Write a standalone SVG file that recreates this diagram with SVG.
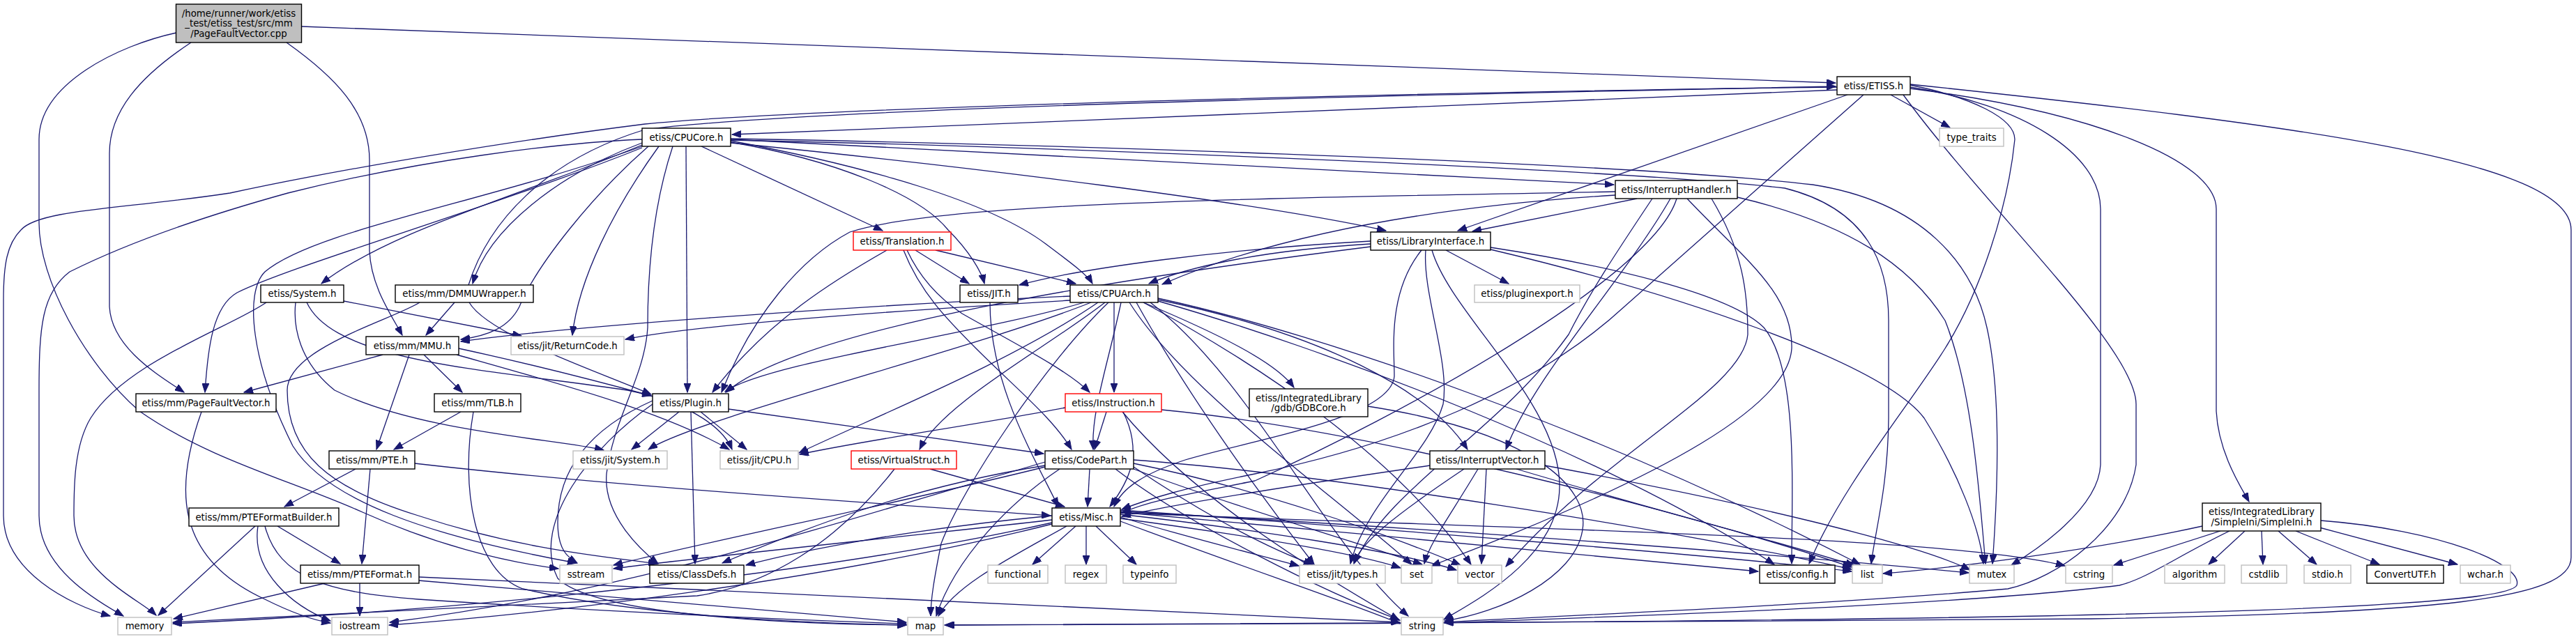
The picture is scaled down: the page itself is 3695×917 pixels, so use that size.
<svg xmlns="http://www.w3.org/2000/svg" width="3695" height="917" viewBox="0 0 3695 917">
<style>
.e{fill:none;stroke:#191970;stroke-width:1.3;marker-end:url(#ah)}
.n rect{fill:#fff;stroke:#000;stroke-width:1.4}
.x rect{fill:#fff;stroke:#bfbfbf;stroke-width:1.4}
.r rect{fill:#fff;stroke:#f00;stroke-width:1.4}
.g rect{fill:#bfbfbf;stroke:#000;stroke-width:1.4}
text{font-family:"DejaVu Sans","Liberation Sans",sans-serif;font-size:13.33px;text-anchor:middle;fill:#000}
</style>
<defs>
<marker id="ah" markerWidth="14" markerHeight="10" viewBox="0 0 14 10" refX="13" refY="5" orient="auto" markerUnits="userSpaceOnUse"><polygon points="0,0 13,5 0,10" fill="#191970" stroke="#191970"/></marker>
</defs>
<rect width="3695" height="917" fill="#fff"/>
<g id="connectors">
<path class="e" d="M433,38 L2633,119"/>
<path class="e" d="M253,47 C170,65 56,120 56,200 L56,320 C56,400 120,520 200,590 C300,660 420,690 520,735 C620,780 720,806 801,816"/>
<path class="e" d="M274,61 C200,110 157,160 157,220 L157,440 C160,500 230,540 264,563"/>
<path class="e" d="M411,61 C480,110 530,160 530,230 L530,360 C532,410 560,450 577,481"/>
<path class="e" d="M2635,129 L1050,193"/>
<path class="e" d="M2635,125 C2300,128 1200,150 925,178 C750,200 500,240 330,277 C180,300 56,300 30,330 C10,350 5,380 5,430 L5,740 C5,820 100,868 158,884"/>
<path class="e" d="M672,409 C700,320 780,230 925,186 C1200,150 2300,131 2633,124"/>
<path class="e" d="M921,205 C800,250 700,330 678,407"/>
<path class="e" d="M921,208 C750,280 560,330 461,407"/>
<path class="e" d="M921,200 C800,205 600,230 413,277 C330,300 200,340 100,390 C60,420 56,470 56,560 L56,740 C56,820 150,868 177,884"/>
<path class="e" d="M921,212 C700,300 420,380 340,420 C305,440 298,500 294,563"/>
<path class="e" d="M921,210 C700,290 450,330 380,390 C350,420 360,520 420,640 C470,720 620,770 827,808"/>
<path class="e" d="M930,210 C850,280 770,380 745,440 C730,470 700,482 661,487"/>
<path class="e" d="M945,210 C880,300 830,400 821,481"/>
<path class="e" d="M984,210 L986,563"/>
<path class="e" d="M965,210 C935,300 929,400 929,470 C925,540 880,600 870,680 C865,740 920,790 944,809"/>
<path class="e" d="M1006,210 L1266,331"/>
<path class="e" d="M1048,204 C1200,230 1320,280 1360,330 C1390,360 1408,390 1412,407"/>
<path class="e" d="M1048,202 C1250,240 1420,290 1500,350 C1540,380 1560,395 1567,407"/>
<path class="e" d="M1048,200 C1600,225 2100,255 2315,265"/>
<path class="e" d="M1048,205 C1400,240 1800,290 1988,331"/>
<path class="e" d="M1048,199 C1400,205 2300,230 2600,265 C2760,290 2830,380 2850,470 C2870,560 2866,700 2858,809"/>
<path class="e" d="M1048,201 C1400,208 2300,240 2560,270 C2680,300 2709,380 2709,460 L2709,600 C2708,700 2690,760 2684,809"/>
<path class="e" d="M2650,136 L2091,331"/>
<path class="e" d="M2712,136 L2797,183"/>
<path class="e" d="M2673,136 L2330,440 C2200,560 2000,640 1800,680 C1700,700 1650,715 1609,731"/>
<path class="e" d="M2740,122 C2830,140 2890,170 2890,200 C2880,300 2840,420 2790,500 C2740,580 2640,700 2595,809"/>
<path class="e" d="M2730,136 C2850,300 3064,500 3064,580 L3064,667 C3050,760 2950,830 2880,845 C2600,870 2200,885 2072,893"/>
<path class="e" d="M2740,125 C2900,150 3013,220 3013,300 L3013,667 C3010,730 2920,790 2885,811"/>
<path class="e" d="M2740,127 C3000,160 3179,230 3179,300 L3179,590 C3182,650 3215,700 3226,720"/>
<path class="e" d="M2740,121 C3300,180 3688,230 3688,330 L3688,800 C3688,860 3500,880 3000,888 C2400,893 1600,895 1355,897"/>
<path class="e" d="M2074,359 L2164,407"/>
<path class="e" d="M1966,350 C1800,360 1700,385 1648,407"/>
<path class="e" d="M1966,346 C1750,358 1550,385 1462,409"/>
<path class="e" d="M1966,354 C1600,400 1150,470 1041,563"/>
<path class="e" d="M2039,359 C1990,420 2000,500 2000,540 C1995,600 1800,630 1700,660 C1640,680 1610,700 1598,727"/>
<path class="e" d="M2045,359 C2040,420 2080,520 2070,580 C2050,650 1960,720 1937,809"/>
<path class="e" d="M2054,359 C2080,450 2240,580 2237,700 C2235,800 2120,860 2071,889"/>
<path class="e" d="M2138,355 C2300,380 2480,420 2530,470 C2580,530 2570,700 2570,809"/>
<path class="e" d="M2138,358 C2400,420 2700,520 2760,600 C2810,680 2840,760 2845,809"/>
<path class="e" d="M2348,285 L2112,332"/>
<path class="e" d="M2317,280 C2000,300 1800,350 1667,408"/>
<path class="e" d="M2317,275 C1800,285 1350,290 1219,333 C1150,370 1080,450 1035,563"/>
<path class="e" d="M2396,285 C2330,400 2200,540 2160,645"/>
<path class="e" d="M2405,285 C2370,400 2000,600 1800,690 C1700,710 1650,718 1609,736"/>
<path class="e" d="M2455,285 C2500,360 2507,420 2507,480 C2500,560 2300,650 2160,813"/>
<path class="e" d="M2420,285 C2500,370 2572,420 2570,500 C2565,580 2400,680 2053,812"/>
<path class="e" d="M2370,285 C2320,360 2280,420 2250,480 C2150,620 1990,700 1943,808"/>
<path class="e" d="M2492,283 C2650,320 2740,380 2790,460 C2830,560 2840,720 2848,809"/>
<path class="e" d="M1313,359 L1390,407"/>
<path class="e" d="M1342,359 L1543,407"/>
<path class="e" d="M1272,359 C1200,400 1100,460 1022,563"/>
<path class="e" d="M1301,359 C1320,400 1350,430 1380,450 C1450,490 1530,530 1563,563"/>
<path class="e" d="M1296,359 C1320,420 1360,460 1400,500 C1460,560 1510,600 1537,645"/>
<path class="e" d="M1535,425 C1200,440 800,470 661,490"/>
<path class="e" d="M1535,431 C1300,445 1000,465 897,487"/>
<path class="e" d="M1555,434 C1400,480 1100,520 1040,562"/>
<path class="e" d="M1565,434 C1400,500 1000,600 930,645"/>
<path class="e" d="M1575,434 C1450,520 1250,600 1146,650"/>
<path class="e" d="M1598,434 L1598,563"/>
<path class="e" d="M1585,434 C1500,500 1350,580 1319,645"/>
<path class="e" d="M1608,434 C1590,520 1565,590 1568,645"/>
<path class="e" d="M1640,434 C1750,480 1830,520 1856,556"/>
<path class="e" d="M1661,430 C1900,480 2050,560 2105,645"/>
<path class="e" d="M1590,434 C1500,520 1380,700 1350,780 C1340,830 1335,860 1335,884"/>
<path class="e" d="M1661,428 C1900,480 2300,620 2668,810"/>
<path class="e" d="M1661,432 C1900,500 2300,650 2545,810"/>
<path class="e" d="M1620,434 C1700,560 1900,700 2025,810"/>
<path class="e" d="M1650,434 C1800,550 1900,780 2020,884"/>
<path class="e" d="M1640,434 C1800,520 2000,650 2110,810"/>
<path class="e" d="M1630,434 C1700,560 1800,700 1885,810"/>
<path class="e" d="M1587,591 L1570,645"/>
<path class="e" d="M1611,591 C1640,650 1620,690 1592,727"/>
<path class="e" d="M1528,585 C1400,610 1250,630 1147,652"/>
<path class="e" d="M1610,591 C1700,700 1850,800 2007,890"/>
<path class="e" d="M1666,588 C2000,620 2500,760 2656,814"/>
<path class="e" d="M1563,673 L1560,727"/>
<path class="e" d="M1499,668 C1300,700 1150,760 1036,808"/>
<path class="e" d="M1520,673 C1450,720 1370,800 1343,884"/>
<path class="e" d="M1626,670 C1700,720 1800,780 1883,810"/>
<path class="e" d="M1499,663 C1200,750 900,850 559,893"/>
<path class="e" d="M1499,670 C1300,720 1000,780 880,811"/>
<path class="e" d="M1600,673 C1700,750 1900,850 2008,890"/>
<path class="e" d="M1626,673 C1750,720 1950,780 2040,810"/>
<path class="e" d="M1626,665 C1800,700 2000,770 2095,811"/>
<path class="e" d="M1626,660 C1900,680 2400,760 2656,817"/>
<path class="e" d="M1334,673 L1527,727"/>
<path class="e" d="M1283,673 C1200,780 1100,840 1000,855 C700,870 400,885 248,893"/>
<path class="e" d="M1543,755 L1481,810"/>
<path class="e" d="M1558,755 L1558,810"/>
<path class="e" d="M1572,755 L1630,810"/>
<path class="e" d="M1530,755 C1450,800 1370,840 1346,884"/>
<path class="e" d="M1509,740 C1300,760 1150,790 1070,811"/>
<path class="e" d="M1509,746 C1300,770 1000,800 880,816"/>
<path class="e" d="M1509,750 C1200,820 700,875 248,895"/>
<path class="e" d="M1509,752 C1200,830 800,880 558,897"/>
<path class="e" d="M1607,748 C1800,820 1950,870 2008,895"/>
<path class="e" d="M1607,742 C1700,770 1800,795 1863,812"/>
<path class="e" d="M1607,744 C1800,770 1950,795 2009,815"/>
<path class="e" d="M1607,738 C1800,760 2000,790 2089,818"/>
<path class="e" d="M1607,732 C2000,760 2500,800 2656,820"/>
<path class="e" d="M1607,735 C1900,760 2300,800 2522,820"/>
<path class="e" d="M1607,734 C2100,760 2600,800 2824,822"/>
<path class="e" d="M1607,736 C2200,760 2800,770 2962,812"/>
<path class="e" d="M2051,668 C1900,690 1700,720 1609,741"/>
<path class="e" d="M2100,673 C2000,740 1950,780 1942,809"/>
<path class="e" d="M2120,673 C2080,740 2050,780 2043,809"/>
<path class="e" d="M2132,673 L2125,809"/>
<path class="e" d="M2175,673 C2400,740 2600,790 2660,812"/>
<path class="e" d="M2216,668 C2500,720 2750,780 2826,818"/>
<path class="e" d="M1962,583 C2200,620 2280,700 2270,760 C2260,830 2150,880 2072,891"/>
<path class="e" d="M1420,434 C1420,550 1480,650 1518,727"/>
<path class="e" d="M549,509 L350,563"/>
<path class="e" d="M608,509 L663,563"/>
<path class="e" d="M587,509 L540,645"/>
<path class="e" d="M658,500 C750,520 850,545 934,568"/>
<path class="e" d="M655,509 C800,550 950,590 1046,645"/>
<path class="e" d="M661,591 L565,645"/>
<path class="e" d="M679,591 C660,700 680,820 750,845 C900,880 1100,893 1300,897"/>
<path class="e" d="M510,673 L408,727"/>
<path class="e" d="M531,673 L519,809"/>
<path class="e" d="M595,665 C900,700 1300,725 1507,740"/>
<path class="e" d="M398,755 L488,809"/>
<path class="e" d="M366,755 L227,883"/>
<path class="e" d="M370,755 C360,820 420,870 474,891"/>
<path class="e" d="M380,755 C400,830 470,850 600,860 C900,880 1200,892 1300,895"/>
<path class="e" d="M466,837 L249,888"/>
<path class="e" d="M516,837 L516,884"/>
<path class="e" d="M600,828 C1100,850 1700,880 2008,893"/>
<path class="e" d="M600,833 C900,860 1200,885 1300,893"/>
<path class="e" d="M289,591 C250,700 250,800 380,860 C420,880 450,890 474,894"/>
<path class="e" d="M382,434 C330,470 180,520 130,600 C106,640 106,700 106,740 C106,820 200,860 224,883"/>
<path class="e" d="M493,432 L748,482"/>
<path class="e" d="M424,434 C420,470 430,520 480,560 C600,620 800,630 866,646"/>
<path class="e" d="M440,434 C480,520 700,530 900,560 C1000,580 1040,620 1050,645"/>
<path class="e" d="M652,434 L611,481"/>
<path class="e" d="M673,434 C700,480 850,530 934,566"/>
<path class="e" d="M602,434 C560,460 412,500 412,560 C412,650 470,700 600,740 C750,790 880,800 943,809"/>
<path class="e" d="M974,591 L906,645"/>
<path class="e" d="M1005,591 L1071,645"/>
<path class="e" d="M991,591 L997,809"/>
<path class="e" d="M1045,587 L1497,651"/>
<path class="e" d="M936,575 C880,600 800,650 800,750 C800,790 815,800 828,808"/>
<path class="e" d="M936,580 C850,640 760,750 800,830 C850,880 1100,895 1300,897"/>
<path class="e" d="M3159,755 C3000,790 2800,815 2701,823"/>
<path class="e" d="M3185,762 L3032,811"/>
<path class="e" d="M3220,762 L3168,810"/>
<path class="e" d="M3244,762 L3246,810"/>
<path class="e" d="M3268,762 L3323,810"/>
<path class="e" d="M3293,762 L3413,810"/>
<path class="e" d="M3327,757 L3525,810"/>
<path class="e" d="M3198,762 C3120,800 3080,830 3040,840 C2800,870 2300,885 2072,894"/>
<path class="e" d="M3329,747 C3500,760 3620,810 3610,840 C3590,880 2800,893 1356,897"/>
</g>
<g id="n_root" class="g"><rect x="252.5" y="6" width="180" height="55"/><text x="342.5" y="23.5">/home/runner/work/etiss</text><text x="342.5" y="38">_test/etiss_test/src/mm</text><text x="342.5" y="52.5">/PageFaultVector.cpp</text></g>
<g id="n_etiss" class="n"><rect x="2635" y="110" width="105" height="26"/><text x="2687.5" y="127.7">etiss/ETISS.h</text></g>
<g id="n_cpucore" class="n"><rect x="921" y="184" width="127" height="26"/><text x="984.5" y="201.7">etiss/CPUCore.h</text></g>
<g id="n_type_traits" class="x"><rect x="2782" y="184" width="92" height="26"/><text x="2828" y="201.7">type_traits</text></g>
<g id="n_interrupthandler" class="n"><rect x="2317" y="259" width="175" height="26"/><text x="2404.5" y="276.7">etiss/InterruptHandler.h</text></g>
<g id="n_translation" class="r"><rect x="1224" y="333" width="140" height="26"/><text x="1294" y="350.7">etiss/Translation.h</text></g>
<g id="n_libraryinterface" class="n"><rect x="1966" y="333" width="172" height="26"/><text x="2052" y="350.7">etiss/LibraryInterface.h</text></g>
<g id="n_system" class="n"><rect x="374" y="409" width="119" height="25"/><text x="433.5" y="426.2">etiss/System.h</text></g>
<g id="n_dmmuwrapper" class="n"><rect x="567" y="409" width="198" height="25"/><text x="666" y="426.2">etiss/mm/DMMUWrapper.h</text></g>
<g id="n_jit" class="n"><rect x="1377" y="409" width="83" height="25"/><text x="1418.5" y="426.2">etiss/JIT.h</text></g>
<g id="n_cpuarch" class="n"><rect x="1535" y="409" width="126" height="25"/><text x="1598" y="426.2">etiss/CPUArch.h</text></g>
<g id="n_pluginexport" class="x"><rect x="2115" y="409" width="151" height="25"/><text x="2190.5" y="426.2">etiss/pluginexport.h</text></g>
<g id="n_mmu" class="n"><rect x="525" y="483" width="133" height="26"/><text x="591.5" y="500.7">etiss/mm/MMU.h</text></g>
<g id="n_returncode" class="x"><rect x="733" y="483" width="162" height="26"/><text x="814" y="500.7">etiss/jit/ReturnCode.h</text></g>
<g id="n_pagefaultvector" class="n"><rect x="195" y="565" width="201" height="26"/><text x="295.5" y="582.7">etiss/mm/PageFaultVector.h</text></g>
<g id="n_tlb" class="n"><rect x="623" y="565" width="124" height="26"/><text x="685" y="582.7">etiss/mm/TLB.h</text></g>
<g id="n_plugin" class="n"><rect x="936" y="565" width="109" height="26"/><text x="990.5" y="582.7">etiss/Plugin.h</text></g>
<g id="n_instruction" class="r"><rect x="1528" y="565" width="138" height="26"/><text x="1597" y="582.7">etiss/Instruction.h</text></g>
<g id="n_gdbcore" class="n"><rect x="1792" y="558" width="170" height="40"/><text x="1877" y="575.5">etiss/IntegratedLibrary</text><text x="1877" y="590">/gdb/GDBCore.h</text></g>
<g id="n_jitsystem" class="x"><rect x="822" y="647" width="135" height="26"/><text x="889.5" y="664.7">etiss/jit/System.h</text></g>
<g id="n_pte" class="n"><rect x="472" y="647" width="123" height="26"/><text x="533.5" y="664.7">etiss/mm/PTE.h</text></g>
<g id="n_jitcpu" class="x"><rect x="1033" y="647" width="112" height="26"/><text x="1089" y="664.7">etiss/jit/CPU.h</text></g>
<g id="n_virtualstruct" class="r"><rect x="1221" y="647" width="151" height="26"/><text x="1296.5" y="664.7">etiss/VirtualStruct.h</text></g>
<g id="n_codepart" class="n"><rect x="1499" y="647" width="127" height="26"/><text x="1562.5" y="664.7">etiss/CodePart.h</text></g>
<g id="n_interruptvector" class="n"><rect x="2051" y="647" width="165" height="26"/><text x="2133.5" y="664.7">etiss/InterruptVector.h</text></g>
<g id="n_pteformatbuilder" class="n"><rect x="271" y="729" width="215" height="26"/><text x="378.5" y="746.7">etiss/mm/PTEFormatBuilder.h</text></g>
<g id="n_misc" class="n"><rect x="1509" y="729" width="98" height="26"/><text x="1558" y="746.7">etiss/Misc.h</text></g>
<g id="n_simpleini" class="n"><rect x="3159" y="722" width="170" height="40"/><text x="3244" y="738.5">etiss/IntegratedLibrary</text><text x="3244" y="753.5">/SimpleIni/SimpleIni.h</text></g>
<g id="n_sstream" class="x"><rect x="803" y="811" width="75" height="26"/><text x="840.5" y="828.7">sstream</text></g>
<g id="n_pteformat" class="n"><rect x="431" y="811" width="170" height="26"/><text x="516" y="828.7">etiss/mm/PTEFormat.h</text></g>
<g id="n_classdefs" class="n"><rect x="932" y="811" width="135" height="26"/><text x="999.5" y="828.7">etiss/ClassDefs.h</text></g>
<g id="n_functional" class="x"><rect x="1417" y="811" width="86" height="26"/><text x="1460" y="828.7">functional</text></g>
<g id="n_regex" class="x"><rect x="1528" y="811" width="59" height="26"/><text x="1557.5" y="828.7">regex</text></g>
<g id="n_typeinfo" class="x"><rect x="1611" y="811" width="76" height="26"/><text x="1649" y="828.7">typeinfo</text></g>
<g id="n_jittypes" class="x"><rect x="1864" y="811" width="123" height="26"/><text x="1925.5" y="828.7">etiss/jit/types.h</text></g>
<g id="n_set" class="x"><rect x="2010" y="811" width="44" height="26"/><text x="2032" y="828.7">set</text></g>
<g id="n_vector" class="x"><rect x="2091" y="811" width="63" height="26"/><text x="2122.5" y="828.7">vector</text></g>
<g id="n_config" class="n"><rect x="2524" y="811" width="108" height="26"/><text x="2578" y="828.7">etiss/config.h</text></g>
<g id="n_list" class="x"><rect x="2657" y="811" width="43" height="26"/><text x="2678.5" y="828.7">list</text></g>
<g id="n_mutex" class="x"><rect x="2825" y="811" width="64" height="26"/><text x="2857" y="828.7">mutex</text></g>
<g id="n_cstring" class="x"><rect x="2963" y="811" width="67" height="26"/><text x="2996.5" y="828.7">cstring</text></g>
<g id="n_algorithm" class="x"><rect x="3105" y="811" width="86" height="26"/><text x="3148" y="828.7">algorithm</text></g>
<g id="n_cstdlib" class="x"><rect x="3215" y="811" width="65" height="26"/><text x="3247.5" y="828.7">cstdlib</text></g>
<g id="n_stdio" class="x"><rect x="3305" y="811" width="67" height="26"/><text x="3338.5" y="828.7">stdio.h</text></g>
<g id="n_convertutf" class="n"><rect x="3395" y="811" width="110" height="26"/><text x="3450" y="828.7">ConvertUTF.h</text></g>
<g id="n_wchar" class="x"><rect x="3529" y="811" width="72" height="26"/><text x="3565" y="828.7">wchar.h</text></g>
<g id="n_memory" class="x"><rect x="169" y="886" width="77" height="25"/><text x="207.5" y="903.2">memory</text></g>
<g id="n_iostream" class="x"><rect x="476" y="886" width="80" height="25"/><text x="516" y="903.2">iostream</text></g>
<g id="n_map" class="x"><rect x="1302" y="886" width="51" height="25"/><text x="1327.5" y="903.2">map</text></g>
<g id="n_string" class="x"><rect x="2010" y="886" width="60" height="25"/><text x="2040" y="903.2">string</text></g>
</svg>
